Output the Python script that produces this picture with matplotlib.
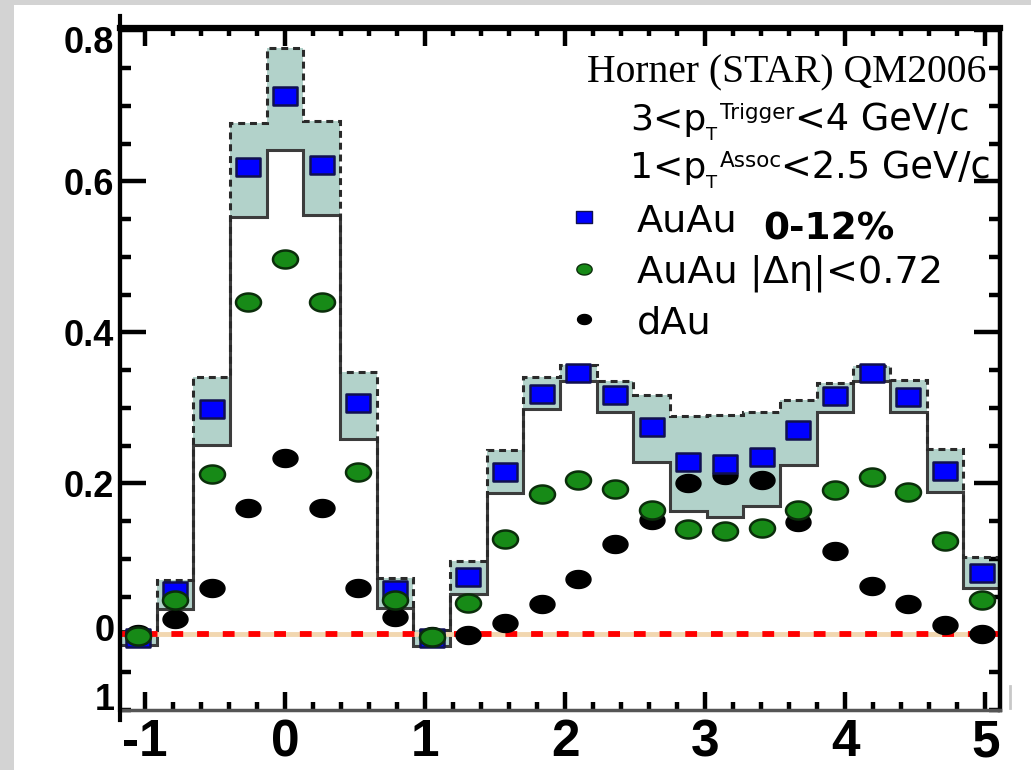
import numpy as np
import matplotlib
matplotlib.use("Agg")
import matplotlib.pyplot as plt
from matplotlib.path import Path
from matplotlib.patches import Rectangle
from matplotlib.lines import Line2D
from matplotlib.ticker import MultipleLocator, FixedLocator
from matplotlib.transforms import ScaledTranslation

plt.rcParams['lines.scale_dashes'] = False

# ---------------- data ----------------
n_bins = 24
bin_width = np.pi / 12
dphi = -np.pi / 3 + bin_width * np.arange(n_bins)   # bin centres

auau_central = [-0.005, 0.057, 0.299, 0.619, 0.713, 0.622, 0.306, 0.059,
                -0.005, 0.076, 0.215, 0.319, 0.346, 0.317, 0.275, 0.229,
                0.226, 0.235, 0.271, 0.316, 0.346, 0.315, 0.217, 0.082]
sys_upper = [0.004, 0.072, 0.341, 0.677, 0.776, 0.680, 0.348, 0.075,
             0.006, 0.097, 0.244, 0.341, 0.357, 0.335, 0.317, 0.289,
             0.290, 0.294, 0.310, 0.333, 0.355, 0.337, 0.245, 0.103]
sys_lower = [-0.014, 0.034, 0.251, 0.553, 0.641, 0.555, 0.259, 0.035,
             -0.015, 0.054, 0.187, 0.298, 0.335, 0.295, 0.229, 0.164,
             0.156, 0.170, 0.224, 0.295, 0.335, 0.295, 0.189, 0.061]
auau_deta = [-0.002, 0.045, 0.213, 0.440, 0.497, 0.440, 0.215, 0.046,
             -0.003, 0.042, 0.126, 0.186, 0.204, 0.193, 0.165, 0.140,
             0.137, 0.141, 0.165, 0.191, 0.208, 0.189, 0.124, 0.045]
dau = [0.000, 0.021, 0.062, 0.168, 0.234, 0.168, 0.062, 0.023,
       -0.002, -0.001, 0.015, 0.041, 0.073, 0.120, 0.151, 0.201,
       0.211, 0.204, 0.149, 0.111, 0.064, 0.041, 0.012, 0.000]

x_major = [-1, 0, 1, 2, 3, 4, 5]
y_major = [0, 0.2, 0.4, 0.6, 0.8]
y_labels = ['0', '0.2', '0.4', '0.6', '0.8']

# ---------------- figure ----------------
W, H = 1031, 770
fig = plt.figure(figsize=(W / 100, H / 100), dpi=100)
fig.patch.set_facecolor('#d3d3d3')
fig.patches.append(Rectangle((14 / W, 0), 1, 1 - 5 / H, transform=fig.transFigure,
                             facecolor='white', edgecolor='none', zorder=-10))

def fx(x):
    return x / W

def fy(y):
    return 1 - y / H

ax = fig.add_axes([fx(120), fy(710), (1000 - 120) / W, (710 - 28) / H])
ax.set_facecolor('none')

edges = np.concatenate([dphi - bin_width / 2, [dphi[-1] + bin_width / 2]])
ax.set_xlim(edges[0], edges[-1])
ax.set_ylim(-0.1, 0.803)

# systematic band
ax.stairs(sys_upper, edges, baseline=sys_lower, fill=True,
          facecolor='#b2d2ca', edgecolor='none', zorder=1)
ax.stairs(sys_lower, edges, baseline=None, color='#3c3c3c', lw=2.2, zorder=2)
up = ax.stairs(sys_upper, edges, baseline=None, color='#2a2a2a', lw=2.2, zorder=2)
up.set_linestyle((0, (5, 3.5)))

# zero line
ax.axhline(0, color='#f2d7b0', lw=3.5, zorder=3)
zl = ax.axhline(0, color='#ff0000', lw=4.2, zorder=3.1)
zl.set_dashes((8.5, 10))

# markers
th = np.linspace(0, 2 * np.pi, 64)
ellipse = Path(np.c_[np.cos(th), 0.72 * np.sin(th)], closed=True)
rect = Path([(-1, -0.74), (1, -0.74), (1, 0.74), (-1, 0.74), (-1, -0.74)], closed=True)

ax.plot(dphi, dau, ls='none', marker=ellipse, ms=18, mfc='black', mec='black',
        mew=1.0, zorder=5)
ax.plot(dphi, auau_central, ls='none', marker=rect, ms=17.5, mfc='#0000ff',
        mec='#101050', mew=1.8, zorder=6)
ax.plot(dphi, auau_deta, ls='none', marker=ellipse, ms=18, mfc='#178a17',
        mec='#0b2e0b', mew=1.8, zorder=7)

# axes styling
for side, lw, col in [('left', 3.0, 'black'), ('top', 4.5, 'black'),
                      ('right', 3.2, 'black'), ('bottom', 2.5, '#555555')]:
    ax.spines[side].set_linewidth(lw)
    ax.spines[side].set_color(col)
    ax.spines[side].set_zorder(10)

ax.xaxis.set_major_locator(FixedLocator(x_major))
ax.xaxis.set_minor_locator(MultipleLocator(0.2))
ax.yaxis.set_major_locator(FixedLocator(y_major))
ax.yaxis.set_minor_locator(MultipleLocator(0.05))
ax.set_yticklabels(y_labels)
ax.set_xticklabels([str(v) for v in x_major])

ax.tick_params(axis='x', which='major', direction='in', length=13, width=3.2,
               top=True, bottom=True, pad=6)
ax.tick_params(axis='x', which='minor', direction='in', length=6, width=3.2,
               top=True, bottom=True)
ax.tick_params(axis='y', which='major', direction='in', length=19, width=3.2,
               left=True, right=True, pad=4)
ax.tick_params(axis='y', which='minor', direction='in', length=8, width=3.2,
               left=True, right=True)

for lab in ax.get_xticklabels():
    lab.set_fontfamily('Liberation Sans')
    lab.set_fontweight('bold')
    lab.set_fontsize(37)
for lab in ax.get_yticklabels():
    lab.set_fontfamily('Liberation Sans')
    lab.set_fontweight('bold')
    lab.set_fontsize(26)

ylabs = ax.get_yticklabels()
ylabs[-1].set_transform(ylabs[-1].get_transform() + ScaledTranslation(0, -9 / 100, fig.dpi_scale_trans))
ylabs[0].set_transform(ylabs[0].get_transform() + ScaledTranslation(0, 7 / 100, fig.dpi_scale_trans))

# cut-off bottom label and left spine extension
fig.text(fx(115), fy(701), '1', ha='right', va='center', fontsize=26,
         fontweight='bold', family='Liberation Sans')
fig.add_artist(Line2D([fx(120), fx(120)], [fy(720), fy(16)], color='black', lw=3.0))
fig.add_artist(Line2D([fx(1010), fx(1010)], [fy(686), fy(708)], color='#c8c8c8', lw=2))

# annotation texts
fig.text(fx(986), fy(82), 'Horner (STAR) QM2006', ha='right', va='baseline',
         fontsize=28.5, family='Liberation Serif')

def put(x, y, txt, size, weight='normal'):
    fig.text(fx(x), fy(y), txt, ha='left', va='baseline', fontsize=size,
             family='DejaVu Sans', fontweight=weight)

put(630, 130, '3<p', 26)
put(706, 140, 'T', 13)
put(720, 119, 'Trigger', 15.5)
put(795, 130, '<4 GeV/c', 26.5)
put(630, 178, '1<p', 26)
put(706, 188, 'T', 13)
put(720, 167, 'Assoc', 15.5)
put(781, 178, '<2.5 GeV/c', 26.5)

# legend
fig.add_artist(Line2D([fx(584)], [fy(217)], marker=rect, ms=11, mfc='#0000ff',
                      mec='#101050', mew=1.0, ls='none'))
fig.add_artist(Line2D([fx(584)], [fy(269)], marker=ellipse, ms=11, mfc='#178a17',
                      mec='#0b2e0b', mew=1.0, ls='none'))
fig.add_artist(Line2D([fx(584)], [fy(319)], marker=ellipse, ms=10, mfc='black',
                      mec='black', mew=1.0, ls='none'))
put(637, 232, 'AuAu', 27.5)
put(763, 240, '0-12%', 27, 'bold')
put(637, 282, 'AuAu |Δη|<0.72', 27.5)
put(637, 333, 'dAu', 27.5)

fig.savefig('out.png', dpi=100)
